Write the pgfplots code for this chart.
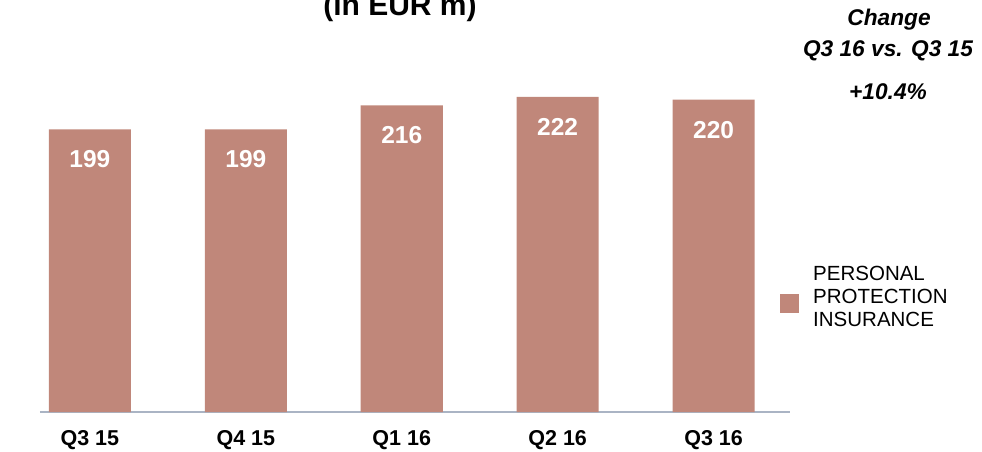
\documentclass[border=0pt]{standalone}
\usepackage{pgfplots}
\pgfplotsset{compat=1.18}
\usepackage{fontspec}
\setmainfont{Liberation Sans}
\definecolor{barcol}{RGB}{192,135,122}
\definecolor{axcol}{RGB}{170,180,196}
\begin{document}
\begin{tikzpicture}[x=1pt,y=1pt]
\clip (-40,-39) rectangle (942,412);
\begin{axis}[at={(0,0)}, anchor=south west, scale only axis,
  width=750pt, height=411.8pt,
  xmin=-0.32, xmax=4.49, ymin=0, ymax=290,
  axis x line*=bottom, axis y line=none,
  x axis line style={draw=axcol, line width=1.2pt, -},
  xtick={0,1,2,3,4}, xticklabels={Q3 15,Q4 15,Q1 16,Q2 16,Q3 16},
  major tick length=0pt,
  xticklabel style={anchor=center, yshift=-28pt, font=\fontsize{21.5}{21.5}\selectfont\bfseries},
  ybar, bar width=82pt,
  /pgf/number format/assume math mode=true,
  nodes near coords,
  every node near coord/.append style={anchor=center, yshift=-30pt, text=white, font=\fontsize{24.5}{24.5}\selectfont\bfseries},
  legend style={draw=none, fill=none, inner sep=0pt, at={(0.9867,0.279)}, anchor=west,
    column sep=14pt, nodes={font=\fontsize{20.5}{23}\selectfont, align=left, inner sep=0pt}},
  legend cell align=left,
  legend image code/.code={\fill[barcol] (0pt,-15.5pt) rectangle (19pt,3.5pt);},
]
\addplot[fill=barcol, draw=none] coordinates {(0,199) (1,199) (2,216) (3,222) (4,220)};
\addlegendentry{PERSONAL\\PROTECTION\\INSURANCE}
\end{axis}
\node[anchor=base, font=\fontsize{30}{30}\selectfont\bfseries] at (360,397) {(in EUR m)};
\node[anchor=base, font=\fontsize{22.7}{22.7}\selectfont\bfseries\itshape] at (849,387) {Change};
\node[anchor=base, font=\fontsize{22.7}{22.7}\selectfont\bfseries\itshape] at (848,355.5) {Q3 16 vs. Q3 15};
\node[anchor=base, font=\fontsize{22.7}{22.7}\selectfont\bfseries\itshape] at (848,312.7) {+10.4\%};
\end{tikzpicture}
\end{document}
